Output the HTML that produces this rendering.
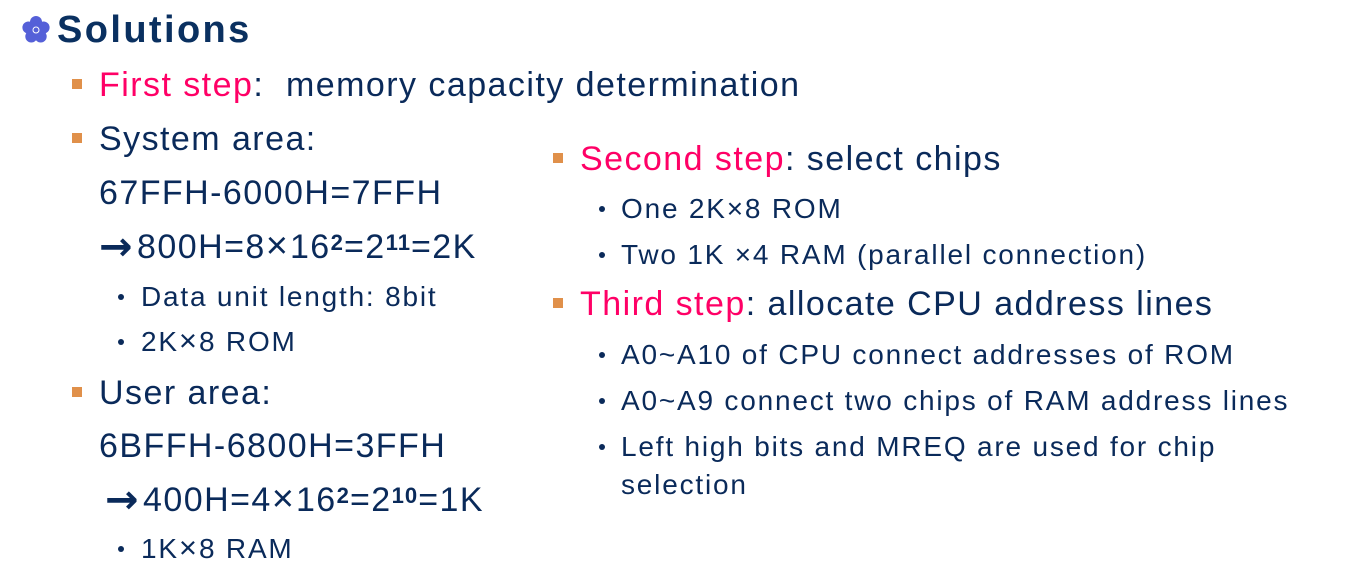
<!DOCTYPE html>
<html><head><meta charset="utf-8"><style>
body{margin:0;width:1355px;height:577px;background:#fff;position:relative;overflow:hidden;font-family:"Liberation Sans",Arial,sans-serif;color:#0a2a5a}
.t{position:absolute;white-space:nowrap;line-height:40px;height:40px}
.l{font-size:34px;letter-spacing:1.45px}
.s{font-size:28px;letter-spacing:1.8px}
.p{color:#ff0066}
.sq{position:absolute;width:10px;height:10px;background:#e0904a}
.dot{position:absolute;width:6px;height:6px;border-radius:50%;background:#0a2a5a}
.ar{font-family:"DejaVu Sans",sans-serif;font-weight:bold;letter-spacing:0;font-size:40px;display:inline-block;width:38px;vertical-align:top;line-height:40px}
sup{font-size:65%;vertical-align:top;position:relative;top:5px;font-weight:bold;letter-spacing:1px;line-height:1}
.x{font-size:38px;letter-spacing:2px;line-height:1}
.xs{font-size:31px;letter-spacing:2px;line-height:1}
</style></head><body>
<svg style="position:absolute;left:22px;top:16px" width="28" height="28" viewBox="0 0 28 28">
<g fill="#5560d8"><circle cx="14" cy="6" r="6"/><circle cx="21.6" cy="11.5" r="6"/><circle cx="18.7" cy="20.5" r="6"/><circle cx="9.3" cy="20.5" r="6"/><circle cx="6.4" cy="11.5" r="6"/><circle cx="14" cy="14" r="7"/></g>
<circle cx="14" cy="14" r="3" fill="none" stroke="#fff" stroke-width="1"/></svg>
<div class="t" style="left:57px;top:10px;font-size:38px;letter-spacing:2.4px;font-weight:bold;color:#0a3060">Solutions</div>

<div class="sq" style="left:72px;top:79px"></div>
<div class="t l" style="left:99px;top:65px"><span class="p">First step</span>:&nbsp; memory capacity determination</div>
<div class="sq" style="left:72px;top:133px"></div>
<div class="t l" style="left:99px;top:119px">System area:</div>
<div class="t l" style="left:99px;top:173px">67FFH-6000H=7FFH</div>
<div class="t l" style="left:99px;top:227px"><span class="ar">→</span>800H=8<span class="x">×</span>16<sup>2</sup>=2<sup>11</sup>=2K</div>
<div class="dot" style="left:118px;top:294px"></div>
<div class="t s" style="left:141px;top:277px">Data unit length: 8bit</div>
<div class="dot" style="left:118px;top:339px"></div>
<div class="t s" style="left:141px;top:322px">2K<span class="xs">×</span>8 ROM</div>
<div class="sq" style="left:72px;top:387px"></div>
<div class="t l" style="left:99px;top:373px">User area:</div>
<div class="t l" style="left:99px;top:426px">6BFFH-6800H=3FFH</div>
<div class="t l" style="left:105px;top:480px"><span class="ar">→</span>400H=4<span class="x">×</span>16<sup>2</sup>=2<sup>10</sup>=1K</div>
<div class="dot" style="left:118px;top:546px"></div>
<div class="t s" style="left:141px;top:529px">1K<span class="xs">×</span>8 RAM</div>

<div class="sq" style="left:553px;top:153px"></div>
<div class="t l" style="left:580px;top:139px"><span class="p">Second step</span>: select chips</div>
<div class="dot" style="left:599px;top:206px"></div>
<div class="t s" style="left:621px;top:189px">One 2K×8 ROM</div>
<div class="dot" style="left:599px;top:252px"></div>
<div class="t s" style="left:621px;top:235px">Two 1K ×4 RAM (parallel connection)</div>
<div class="sq" style="left:553px;top:298px"></div>
<div class="t l" style="left:580px;top:284px"><span class="p">Third step</span>: allocate CPU address lines</div>
<div class="dot" style="left:599px;top:352px"></div>
<div class="t s" style="left:621px;top:335px">A0~A10 of CPU connect addresses of ROM</div>
<div class="dot" style="left:599px;top:398px"></div>
<div class="t s" style="left:621px;top:381px">A0~A9 connect two chips of RAM address lines</div>
<div class="dot" style="left:599px;top:444px"></div>
<div class="t s" style="left:621px;top:427px">Left high bits and MREQ are used for chip</div>
<div class="t s" style="left:621px;top:465px">selection</div>
</body></html>
